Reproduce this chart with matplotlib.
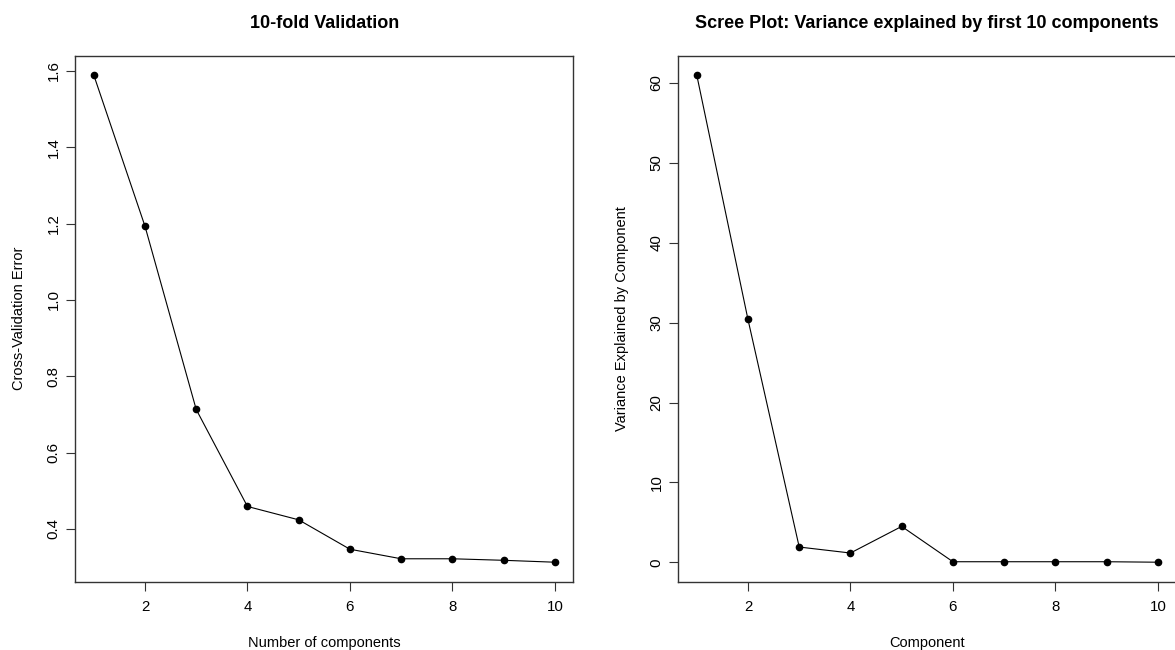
"""Cross-validation error and scree plot, side by side (R base-graphics look)."""

import matplotlib

matplotlib.use("Agg")
import matplotlib.pyplot as plt

# data
n_components = [1, 2, 3, 4, 5, 6, 7, 8, 9, 10]
cv_error = [1.589, 1.193, 0.713, 0.459, 0.424, 0.347, 0.322, 0.322, 0.318, 0.313]
var_explained = [61.0, 30.4, 1.92, 1.17, 4.5, 0.08, 0.08, 0.08, 0.08, 0.02]

x_ticks = [2, 4, 6, 8, 10]
cv_ticks = [0.4, 0.6, 0.8, 1.0, 1.2, 1.4, 1.6]
var_ticks = [0, 10, 20, 30, 40, 50, 60]

plt.rcParams["font.family"] = ["Liberation Sans", "DejaVu Sans"]

W, H = 1175, 650
fig = plt.figure(figsize=(W / 100, H / 100), dpi=100)


def r_lim(values):
    # R pads the data range by 4% on each side
    lo, hi = min(values), max(values)
    pad = 0.04 * (hi - lo)
    return lo - pad, hi + pad


def r_axes(rect, x, y, yticks, title, xlabel, ylabel):
    left, top, right, bottom = rect
    ax = fig.add_axes([left / W, 1 - bottom / H, (right - left) / W, (bottom - top) / H])
    ax.plot(x, y, color="black", lw=0.8, marker="o", ms=4.5, mfc="black", mec="black")
    ax.set_xlim(r_lim(x))
    ax.set_ylim(r_lim(y))
    ax.set_xticks(x_ticks)
    ax.set_xticklabels([str(t) for t in x_ticks])
    ax.set_yticks(yticks)
    ax.set_yticklabels([f"{t:g}" if isinstance(t, int) else f"{t:.1f}" for t in yticks],
                       rotation=90, va="center")
    ax.tick_params(direction="out", length=6.5, width=0.8, labelsize=10.8, color="#333333")
    ax.tick_params(axis="x", pad=7)
    ax.tick_params(axis="y", pad=4)
    for sp in ax.spines.values():
        sp.set_linewidth(1.0)
        sp.set_color("#333333")

    h = bottom - top
    w = right - left
    ax.set_xlabel(xlabel, fontsize=10.5)
    ax.xaxis.set_label_coords(0.5, -(643 - bottom) / h)
    ax.xaxis.label.set_va("center")
    ax.set_ylabel(ylabel, fontsize=10.5)
    ax.yaxis.set_label_coords(-56.0 / w, 0.5)
    ax.yaxis.label.set_va("center")
    ax.yaxis.label.set_ha("center")
    ax.set_title(title, fontsize=13, fontweight="bold", y=1 + (top - 23) / h,
                 va="center", pad=0)
    return ax


r_axes((75.3, 55.5, 573.3, 581.7), n_components, cv_error, cv_ticks,
       "10-fold Validation", "Number of components", "Cross-Validation Error")
r_axes((678.3, 55.5, 1176.3, 581.7), n_components, var_explained, var_ticks,
       "Scree Plot: Variance explained by first 10 components", "Component",
       "Variance Explained by Component")

fig.savefig("out.png", dpi=100)
